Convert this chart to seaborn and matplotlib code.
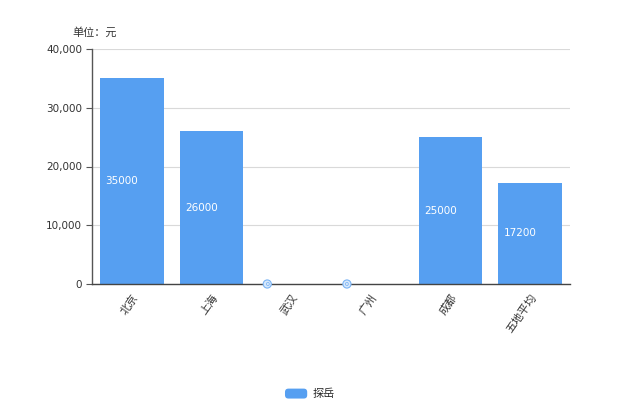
import matplotlib
matplotlib.use("Agg")
import matplotlib.pyplot as plt
import seaborn as sns
import pandas as pd
from matplotlib.patches import FancyBboxPatch, Patch
from matplotlib.legend_handler import HandlerPatch

cities = ["北京", "上海", "武汉", "广州", "成都", "五地平均"]
values = [35000, 26000, 0, 0, 25000, 17200]
series_name = "探岳"
y_ticks = [0, 10000, 20000, 30000, 40000]
unit_label = "单位：元"

sns.set_style("white")
plt.rcParams["font.family"] = ["DejaVu Sans", "Noto Sans CJK SC"]

bar_color = "#569ff1"
df = pd.DataFrame({"city": cities, "value": values, "series": series_name})

fig = plt.figure(figsize=(6.2, 4.13), dpi=100)
ax = fig.add_axes([92 / 620, 1 - 284 / 413, 478 / 620, 235 / 413])

sns.barplot(data=df, x="city", y="value", hue="series", palette=[bar_color],
            width=0.8, ax=ax, legend=False, saturation=1, linewidth=0)

ax.set_xlim(-0.5, 5.5)
ax.set_ylim(0, 40000)
ax.set_yticks(y_ticks)
ax.set_yticklabels([f"{v:,}" for v in y_ticks], fontsize=7.5, color="#333333")
ax.yaxis.grid(True, color="#d9d9d9", linewidth=0.8)
ax.set_axisbelow(True)
ax.set_xlabel("")
ax.set_ylabel("")
for s in ["top", "right"]:
    ax.spines[s].set_visible(False)
ax.spines["left"].set_color("#555555")
ax.spines["bottom"].set_color("#444444")
ax.spines["left"].set_linewidth(1.0)
ax.spines["bottom"].set_linewidth(1.0)
ax.tick_params(axis="y", length=4, width=0.8, color="#555555", pad=3, left=True)
ax.tick_params(axis="x", length=0, pad=6)
ax.set_xticks(range(len(cities)))
ax.set_xticklabels(cities, rotation=55, ha="right", rotation_mode="anchor",
                   fontsize=8, color="#333333",
                   family=["Noto Sans CJK SC", "DejaVu Sans"])

for i, v in enumerate(values):
    xl = i - 0.4 + 0.065
    if v > 0:
        ax.text(xl, v / 2, str(v), color="white", fontsize=7.5,
                ha="left", va="center")
    else:
        ax.text(i - 0.4 + 0.1, 0, "0", color="#569ff1", fontsize=4.5,
                ha="center", va="center", zorder=5,
                bbox=dict(boxstyle="circle,pad=0.25", fc="#d6e8fc",
                          ec="#7ab4f5", lw=0.8))

fig.text(72 / 620, 1 - 32 / 413, unit_label, fontsize=8, color="#333333",
         ha="left", va="center", family=["Noto Sans CJK SC", "DejaVu Sans"])


class RoundHandler(HandlerPatch):
    def create_artists(self, legend, orig_handle, xdescent, ydescent,
                       width, height, fontsize, trans):
        p = FancyBboxPatch((-xdescent, -ydescent), width, height,
                           boxstyle="round,pad=0,rounding_size=2.5",
                           facecolor=bar_color, edgecolor=bar_color, lw=0,
                           transform=trans)
        return [p]


handles = [Patch(facecolor=bar_color, edgecolor=bar_color, label=series_name)]
leg = fig.legend(handles=handles, loc="center", bbox_to_anchor=(0.5, 1 - 394 / 413),
                 frameon=False, fontsize=8, handlelength=2.0, handleheight=1.0,
                 handletextpad=0.5, handler_map={Patch: RoundHandler()},
                 prop={"family": ["Noto Sans CJK SC", "DejaVu Sans"], "size": 8})

fig.savefig("out.png", dpi=100)
